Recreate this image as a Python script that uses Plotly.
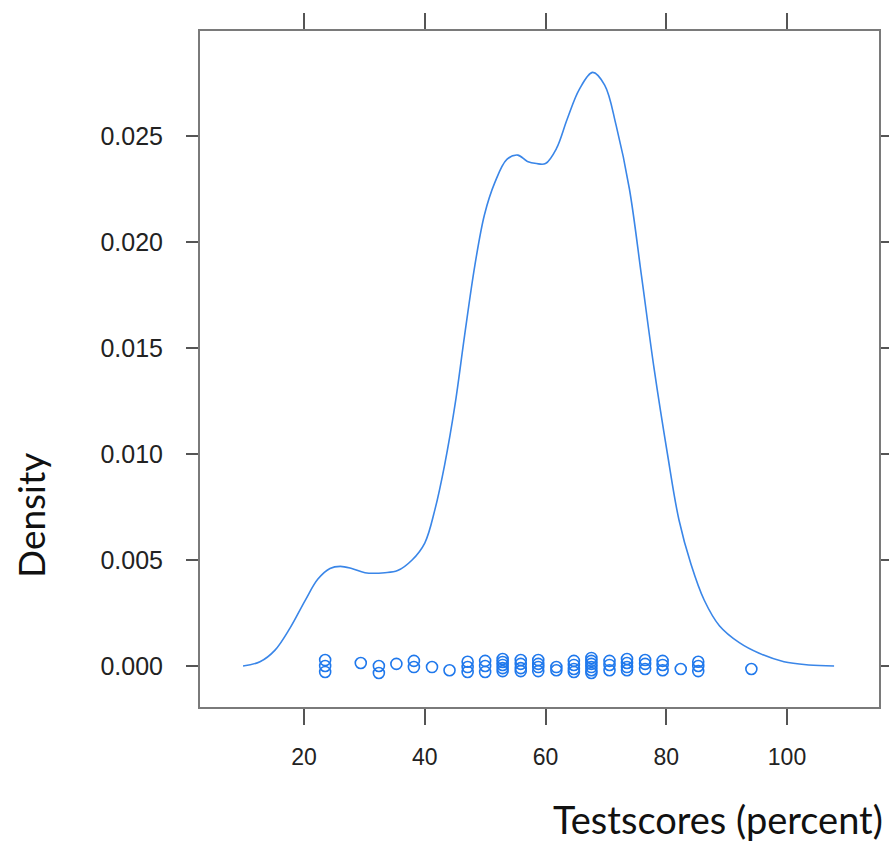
import plotly.graph_objects as go

# Density curve
dens_x = [9.9, 12.7, 15.2, 17.7, 20.2, 22.3, 24.3, 26.0, 27.9, 30.1, 33.4, 35.5, 37.9, 40.0,
          41.7, 43.3, 45.0, 46.6, 48.3, 49.9, 51.6, 53.6, 55.4, 57.0, 58.5, 60.0, 61.8, 63.6,
          65.6, 67.8, 69.8, 71.7, 73.9, 75.9, 78.0, 80.2, 82.1, 84.1, 86.3, 88.8, 92.1, 95.4,
          99.5, 103.6, 107.8]
dens_y = [0.0, 0.0002, 0.00075, 0.0018, 0.0031, 0.0041, 0.0046, 0.0047, 0.0046, 0.0044,
          0.0044, 0.0045, 0.0050, 0.0058, 0.0074, 0.0095, 0.0123, 0.0156, 0.0189, 0.0213,
          0.0228, 0.0239, 0.0241, 0.0238, 0.0237, 0.0237, 0.0244, 0.0258, 0.0272, 0.0280,
          0.0274, 0.0255, 0.0225, 0.0184, 0.0140, 0.0100, 0.0069, 0.0048, 0.0031, 0.0019,
          0.0011, 0.0006, 0.0002, 0.00005, 0.0]

# Rug points: scores and their jittered density positions
rug_x = [23.5, 23.5, 23.5, 29.4, 32.4, 32.4, 35.3, 38.2, 38.2, 41.2, 44.1,
         47.1, 47.1, 47.1, 50.0, 50.0, 50.0,
         52.9, 52.9, 52.9, 52.9, 52.9, 55.9, 55.9, 55.9, 55.9,
         58.8, 58.8, 58.8, 58.8, 61.8, 61.8, 64.7, 64.7, 64.7, 64.7,
         67.6, 67.6, 67.6, 67.6, 67.6, 67.6, 70.6, 70.6, 70.6,
         73.5, 73.5, 73.5, 73.5, 76.5, 76.5, 76.5, 79.4, 79.4, 79.4,
         82.4, 85.3, 85.3, 85.3, 94.1]
rug_y = [0.00028, 0.0, -0.00028, 0.00014, 0.0, -0.00033, 0.0001, 0.00024, -0.00005, -0.00005, -0.0002,
         0.0002, -0.00005, -0.00028, 0.00024, 0.0, -0.00028,
         0.00033, 0.00019, 0.00005, -0.0001, -0.00024, 0.00028, 0.0001, -0.0001, -0.00024,
         0.00028, 0.0001, -0.00005, -0.00024, -0.00005, -0.0002, 0.00024, 0.00005, -0.00014, -0.00028,
         0.00038, 0.00024, 0.0001, -0.00005, -0.0002, -0.00033, 0.00024, 0.00005, -0.0002,
         0.00033, 0.00014, -0.00005, -0.0002, 0.00028, 0.0001, -0.00014, 0.00024, 0.00005, -0.0002,
         -0.00014, 0.0002, 0.0, -0.00024, -0.00014]

x_ticks = [20, 40, 60, 80, 100]
y_ticks = [0.000, 0.005, 0.010, 0.015, 0.020, 0.025]
y_tick_labels = ["0.000", "0.005", "0.010", "0.015", "0.020", "0.025"]

blue = "#3a86e8"

fig = go.Figure()
fig.add_trace(go.Scatter(x=dens_x, y=dens_y, mode="lines", line=dict(color=blue, width=1.6),
                         line_shape="spline", showlegend=False, hoverinfo="skip"))
fig.add_trace(go.Scatter(x=rug_x, y=rug_y, mode="markers",
                         marker=dict(symbol="circle-open", size=11, color="#1f78ec",
                                     line=dict(width=1.6, color="#1f78ec")),
                         showlegend=False))

axis_common = dict(showline=True, linecolor="#7a7a7a", linewidth=2, mirror="ticks",
                   ticks="outside", tickcolor="#555555", tickwidth=1.5,
                   showgrid=False, zeroline=False, automargin=False)

fig.update_xaxes(range=[2.77, 115.24], tickvals=x_ticks, ticklen=16, ticklabelstandoff=12,
                 tickfont=dict(family="Liberation Sans, Arial", size=23, color="#222222"),
                 **axis_common)
fig.update_yaxes(range=[-0.001934, 0.029953], tickvals=y_ticks, ticktext=y_tick_labels,
                 ticklen=12, ticklabelstandoff=18,
                 tickfont=dict(family="Liberation Sans, Arial", size=25, color="#222222"),
                 **axis_common)

fig.update_layout(
    width=889, height=843,
    margin=dict(l=200, r=10, t=31, b=136, autoexpand=False),
    plot_bgcolor="white", paper_bgcolor="white",
    annotations=[
        dict(text="Density", x=30, y=516, xref="paper", yref="paper", showarrow=False,
             textangle=-90, xanchor="center", yanchor="middle",
             font=dict(family="Lato, Open Sans", size=37, color="#111111")),
        dict(text="Testscores (percent)", x=885, y=819, xref="paper", yref="paper",
             showarrow=False, xanchor="right", yanchor="middle",
             font=dict(family="Lato, Open Sans", size=38, color="#111111")),
    ],
)
# convert annotation pixel positions to paper coordinates
pw = 889 - 200 - 10
ph = 843 - 31 - 136
for a in fig.layout.annotations:
    px, py = a.x, a.y
    a.x = (px - 200) / pw
    a.y = (843 - 136 - py) / ph

fig.write_html("out.html")
